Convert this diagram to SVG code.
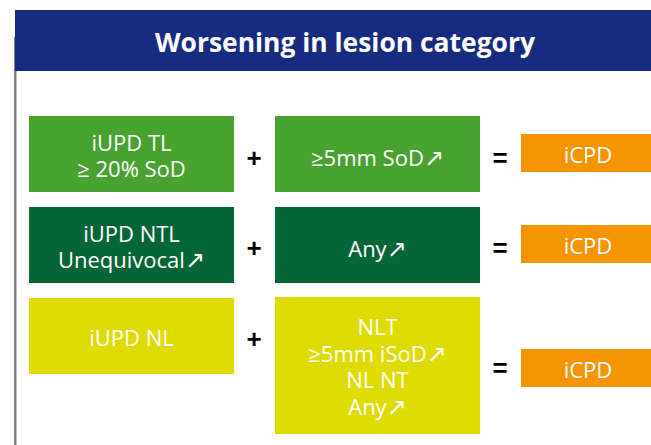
<svg xmlns="http://www.w3.org/2000/svg" width="651" height="445" viewBox="0 0 651 445">
<style>
.t{font-family:"Open Sans","Liberation Sans",sans-serif;font-size:22px;fill:#fff;text-anchor:middle}
.a{font-family:"DejaVu Sans",sans-serif;font-size:24px}
.op{font-family:"Liberation Sans",sans-serif;font-size:26px;font-weight:bold;fill:#000;text-anchor:middle}
.g1{fill:#47A22F}.g2{fill:#046537}.y{fill:#DFDB00}.o{fill:#F39400}
</style>
<rect x="0" y="0" width="651" height="445" fill="#fff"/>
<rect x="14" y="37" width="2.5" height="408" fill="#808080"/>
<g id="title">
<rect x="15" y="10" width="636" height="61" fill="#172B80"/>
<text x="345" y="52" textLength="380" lengthAdjust="spacingAndGlyphs" style="font-family:'Open Sans','Liberation Sans',sans-serif;font-size:27px;font-weight:bold;fill:#fff;text-anchor:middle">Worsening in lesion category</text>
</g>
<g id="row1-left"><rect class="g1" x="29" y="116" width="205" height="76"/>
<text class="t" x="131.5" y="151">iUPD TL</text><text class="t" x="131.5" y="177">≥ 20% SoD</text></g>
<g id="row1-mid"><rect class="g1" x="275" y="116" width="205" height="76"/>
<text class="t" x="377.5" y="166">≥5mm SoD<tspan class="a">↗</tspan></text></g>
<g id="row1-res"><rect class="o" x="521" y="134" width="130" height="38"/>
<text class="t" x="588" y="163">iCPD</text></g>
<g id="row2-left"><rect class="g2" x="29" y="207" width="205" height="76"/>
<text class="t" x="131.5" y="242">iUPD NTL</text><text class="t" x="131.5" y="268">Unequivocal<tspan class="a">↗</tspan></text></g>
<g id="row2-mid"><rect class="g2" x="275" y="207" width="205" height="76"/>
<text class="t" x="377.5" y="257">Any<tspan class="a">↗</tspan></text></g>
<g id="row2-res"><rect class="o" x="521" y="225" width="130" height="38"/>
<text class="t" x="588" y="254">iCPD</text></g>
<g id="row3-left"><rect class="y" x="29" y="298" width="205" height="76"/>
<text class="t" x="131.5" y="346">iUPD NL</text></g>
<g id="row3-mid"><rect class="y" x="275" y="297" width="205" height="137"/>
<text class="t" x="377.5" y="335">NLT</text><text class="t" x="377.5" y="362">≥5mm iSoD<tspan class="a">↗</tspan></text><text class="t" x="377.5" y="388">NL NT</text><text class="t" x="377.5" y="415">Any<tspan class="a">↗</tspan></text></g>
<g id="row3-res"><rect class="o" x="521" y="349" width="130" height="38"/>
<text class="t" x="588" y="378">iCPD</text></g>
<g id="operators">
<text class="op" x="254" y="167">+</text><text class="op" x="500" y="167">=</text>
<text class="op" x="254" y="257">+</text><text class="op" x="500" y="257">=</text>
<text class="op" x="254" y="348">+</text><text class="op" x="500" y="377">=</text>
</g>
</svg>
